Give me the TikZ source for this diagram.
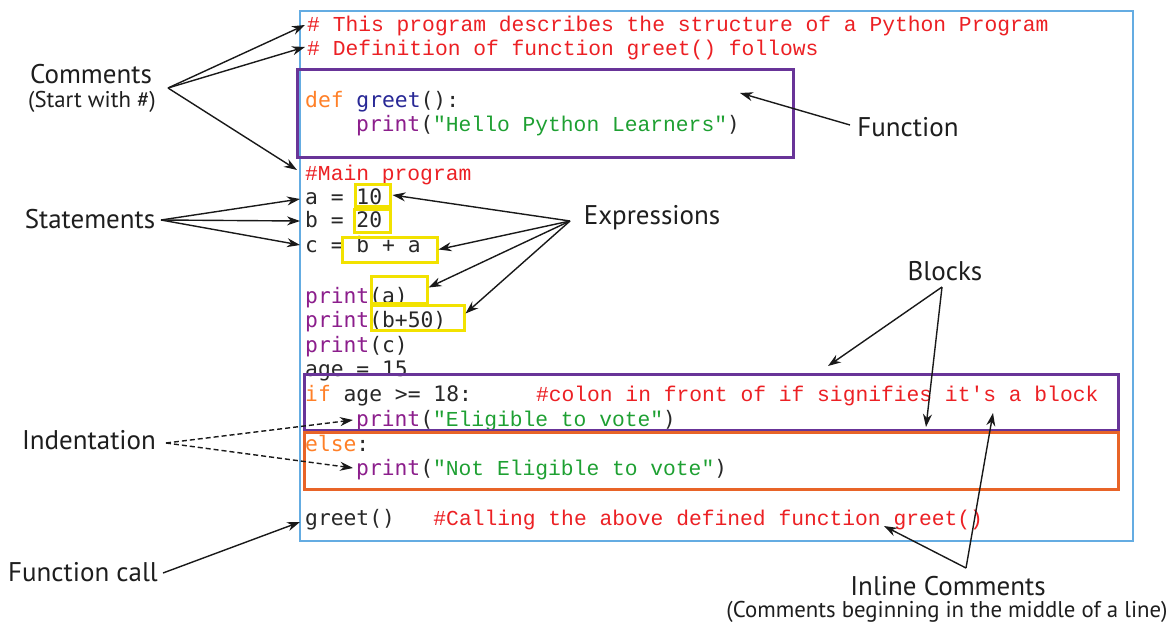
\documentclass[tikz,border=0pt]{standalone}
\usepackage{fontspec}
\setmainfont{PT Sans}
\newfontfamily\srcmono{Liberation Mono}[Ligatures=TeXOff]
\newfontfamily\srcsans{DejaVu Sans Mono}[Ligatures=TeXOff]
\usetikzlibrary{arrows.meta}

\definecolor{cred}{RGB}{236,32,36}
\definecolor{corange}{RGB}{255,128,40}
\definecolor{cblue}{RGB}{40,40,150}
\definecolor{cpurple}{RGB}{140,30,140}
\definecolor{cgreen}{RGB}{30,160,50}
\definecolor{cplaintext}{RGB}{40,40,40}
\definecolor{frameblue}{RGB}{100,172,226}
\definecolor{boxpurple}{RGB}{104,52,152}
\definecolor{boxorange}{RGB}{232,100,40}
\definecolor{boxyellow}{RGB}{242,226,0}
\definecolor{labeltext}{RGB}{30,30,30}

% syntax colouring helpers
\newcommand\ccom[1]{{\srcmono\color{cred}#1}}
\newcommand\ckw[1]{{\srcsans\color{corange}#1}}
\newcommand\cfun[1]{{\srcsans\color{cblue}#1}}
\newcommand\cprn[1]{{\srcsans\color{cpurple}#1}}
\newcommand\cstr[1]{{\srcmono\color{cgreen}#1}}
\newcommand\cpl[1]{{\srcsans\color{cplaintext}#1}}

\begin{document}
\begin{tikzpicture}[x=1pt,y=-1pt,
  code/.style={anchor=base west, inner sep=0pt, font=\fontsize{21.3}{24}\selectfont},
  lbl/.style={inner sep=0pt, text=labeltext, font=\fontsize{27}{31}\selectfont},
  sublbl/.style={inner sep=0pt, text=labeltext, font=\fontsize{22.8}{26}\selectfont},
  ybox/.style={draw=boxyellow, line width=3pt, inner sep=0pt},
  arr/.style={-{Stealth[length=13pt,width=9pt]}, line width=1.4pt, draw=black!90},
  dasharr/.style={arr, dash pattern=on 5pt off 3pt}]

\useasboundingbox[fill=white] (0,0) rectangle (1175,626);

% editor frame
\draw[frameblue, line width=2pt] (300,11) rectangle (1133,541);

% source listing
\node[code] (l1) at (307,32) {\ccom{\# This program describes the structure of a Python Program}};
\node[code] (l2) at (307,56) {\ccom{\# Definition of function greet() follows}};
\node[code] (l3) at (305,107) {\ckw{def}\cpl{~}\cfun{greet}\cpl{():}};
\node[code] (l4) at (356,131) {\cprn{print}\cpl{(}\cstr{"Hello Python Learners"}\cpl{)}};
\node[code] (l5) at (305,180) {\ccom{\#Main program}};
\node[code] (l6) at (305,204) {\cpl{a~=~10}};
\node[code] (l7) at (305,227) {\cpl{b~=~20}};
\node[code] (l8) at (305,252) {\cpl{c~=~b~+~a}};
\node[code] (l9) at (305,303) {\cprn{print}\cpl{(a)}};
\node[code] (l10) at (305,327) {\cprn{print}\cpl{(b+50)}};
\node[code] (l11) at (305,352) {\cprn{print}\cpl{(c)}};
\node[code] (l12) at (305,376) {\cpl{age~=~15}};
\node[code] (l13) at (305,401) {\ckw{if}\cpl{~age~>=~18:~~~~~}\ccom{\#colon in front of if signifies it's a block}};
\node[code] (l14) at (356,426) {\cprn{print}\cpl{(}\cstr{"Eligible to vote"}\cpl{)}};
\node[code] (l15) at (305,451) {\ckw{else}\cpl{:}};
\node[code] (l16) at (356,475) {\cprn{print}\cpl{(}\cstr{"Not Eligible to vote"}\cpl{)}};
\node[code] (l17) at (305,525) {\cpl{greet()~~~}\ccom{\#Calling the above defined function greet()}};

% function and block frames
\draw[boxpurple, line width=3pt] (297,70) rectangle (793,157);
\draw[boxpurple, line width=3pt] (304,374) rectangle (1118,430);
\draw[boxorange, line width=3pt] (304,432) rectangle (1118,489);

% expression frames
\node[ybox, minimum width=35pt, minimum height=22pt] (e1) at (372.5,195) {};
\node[ybox, minimum width=36pt, minimum height=23pt] (e2) at (372,220.5) {};
\node[ybox, minimum width=95pt, minimum height=25pt] (e3) at (389.5,249.5) {};
\node[ybox, minimum width=56pt, minimum height=27pt] (e4) at (399,289.5) {};
\node[ybox, minimum width=93pt, minimum height=25pt] (e5) at (417.5,317.5) {};

% labels
\node[lbl] (comments) at (91,74) {Comments};
\node[sublbl] (commentsub) at (92,102) {(Start with \#)};
\node[lbl] (statements) at (90,219) {Statements};
\node[lbl] (expressions) at (652,218) {Expressions};
\node[lbl] (function) at (908,127) {Function};
\node[lbl] (blocks) at (945,271) {Blocks};
\node[lbl] (indent) at (89,440) {Indentation};
\node[lbl] (fcall) at (83,572) {Function call};
\node[lbl] (inline) at (948,586) {Inline Comments};
\node[sublbl] (inlinesub) at (947,612) {(Comments beginning in the middle of a line)};

% connector end points
\coordinate (cmFan) at (168,88);
\coordinate (cmT1) at (305,25);
\coordinate (cmT2) at (305,47);
\coordinate (cmT3) at (297,170);
\coordinate (stFan) at (161,220);
\coordinate (stT1) at (300,199);
\coordinate (stT2) at (300,221);
\coordinate (stT3) at (300,245);
\coordinate (exFan) at (570,221);
\coordinate (fnTail) at (850,125);
\coordinate (fnTip) at (740,93);
\coordinate (blFan) at (942,287);
\coordinate (blT1) at (828,366);
\coordinate (blT2) at (926,427);
\coordinate (inFan) at (166,443);
\coordinate (inT1) at (353,420);
\coordinate (inT2) at (353,468);
\coordinate (fcTail) at (163,573);
\coordinate (fcTip) at (300,522);
\coordinate (icFan) at (966,568);
\coordinate (icT1) at (884,526);
\coordinate (icT2) at (993,413);

% connectors
\draw[arr] (cmFan) -- (cmT1);
\draw[arr] (cmFan) -- (cmT2);
\draw[arr] (cmFan) -- (cmT3);
\draw[arr] (stFan) -- (stT1);
\draw[arr] (stFan) -- (stT2);
\draw[arr] (stFan) -- (stT3);
\draw[arr] (exFan) -- ([xshift=1pt]e1.east);
\draw[arr] (exFan) -- (e3.east);
\draw[arr] (exFan) -- ([yshift=2pt]e4.east);
\draw[arr] (exFan) -- ([yshift=4pt]e5.east);
\draw[arr] (fnTail) -- (fnTip);
\draw[arr] (blFan) -- (blT1);
\draw[arr] (blFan) -- (blT2);
\draw[dasharr] (inFan) -- (inT1);
\draw[dasharr] (inFan) -- (inT2);
\draw[arr] (fcTail) -- (fcTip);
\draw[arr] (icFan) -- (icT1);
\draw[arr] (icFan) -- (icT2);
\end{tikzpicture}
\end{document}
